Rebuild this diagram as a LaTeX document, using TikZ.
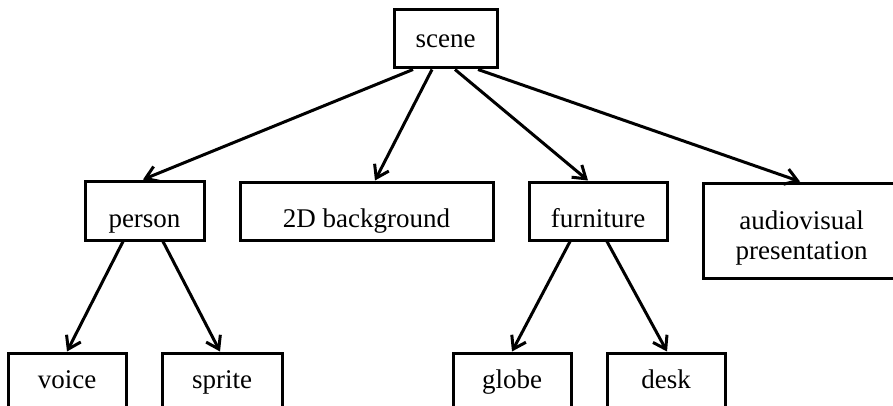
\documentclass[tikz,border=0pt]{standalone}
\usepackage{fontspec}
\setmainfont{Liberation Serif}
\usetikzlibrary{arrows.meta}
\begin{document}
\begin{tikzpicture}[x=1pt,y=-1pt,
  box/.style={draw,line width=3pt,rectangle,inner sep=0pt,
    font=\fontsize{27}{30}\selectfont,align=center},
  toprow/.style={box,text height=20pt,text depth=2pt},
  midrow/.style={box,text height=36pt,text depth=3pt},
  lowrow/.style={box,text height=18pt,text depth=7pt},
  conn/.style={line width=3pt,-{Straight Barb[length=12pt,width=16pt,line width=3pt]}}]
\useasboundingbox (0,0) rectangle (893,406);
\node[toprow,minimum width=103pt,minimum height=58pt] (scene) at (445.5,39) {scene};
\node[midrow,minimum width=119pt,minimum height=59pt] (person) at (144.5,210.5) {person};
\node[midrow,minimum width=253pt,minimum height=58pt] (bg) at (366.5,211) {2D background};
\node[midrow,minimum width=138pt,minimum height=58pt] (furn) at (598,211) {furniture};
\node[box,minimum width=197pt,minimum height=95pt] (av) at (801.5,230.5) {\rule{0pt}{34pt}audiovisual\\presentation};
\node[lowrow,minimum width=118pt,minimum height=59pt] (voice) at (67,382.5) {voice};
\node[lowrow,minimum width=120pt,minimum height=59pt] (sprite) at (222,382.5) {sprite};
\node[lowrow,minimum width=118pt,minimum height=59pt] (globe) at (512,382.5) {globe};
\node[lowrow,minimum width=118pt,minimum height=59pt] (desk) at (666,382.5) {desk};
\draw[conn] ([xshift=-32.5pt]scene.south) -- ([xshift=-1.5pt]person.north);
\draw[conn] ([xshift=-13.5pt]scene.south) -- ([xshift=8.5pt]bg.north);
\draw[conn] ([xshift=9.5pt]scene.south) -- ([xshift=-10pt]furn.north);
\draw[conn] ([xshift=32.5pt]scene.south) -- ([xshift=-1.5pt]av.north);
\draw[conn] ([xshift=-21.5pt]person.south) -- (voice.north);
\draw[conn] ([xshift=18.5pt]person.south) -- ([xshift=-2pt]sprite.north);
\draw[conn] ([xshift=-28pt]furn.south) -- (globe.north);
\draw[conn] ([xshift=9pt]furn.south) -- ([xshift=1pt]desk.north);
\end{tikzpicture}
\end{document}
